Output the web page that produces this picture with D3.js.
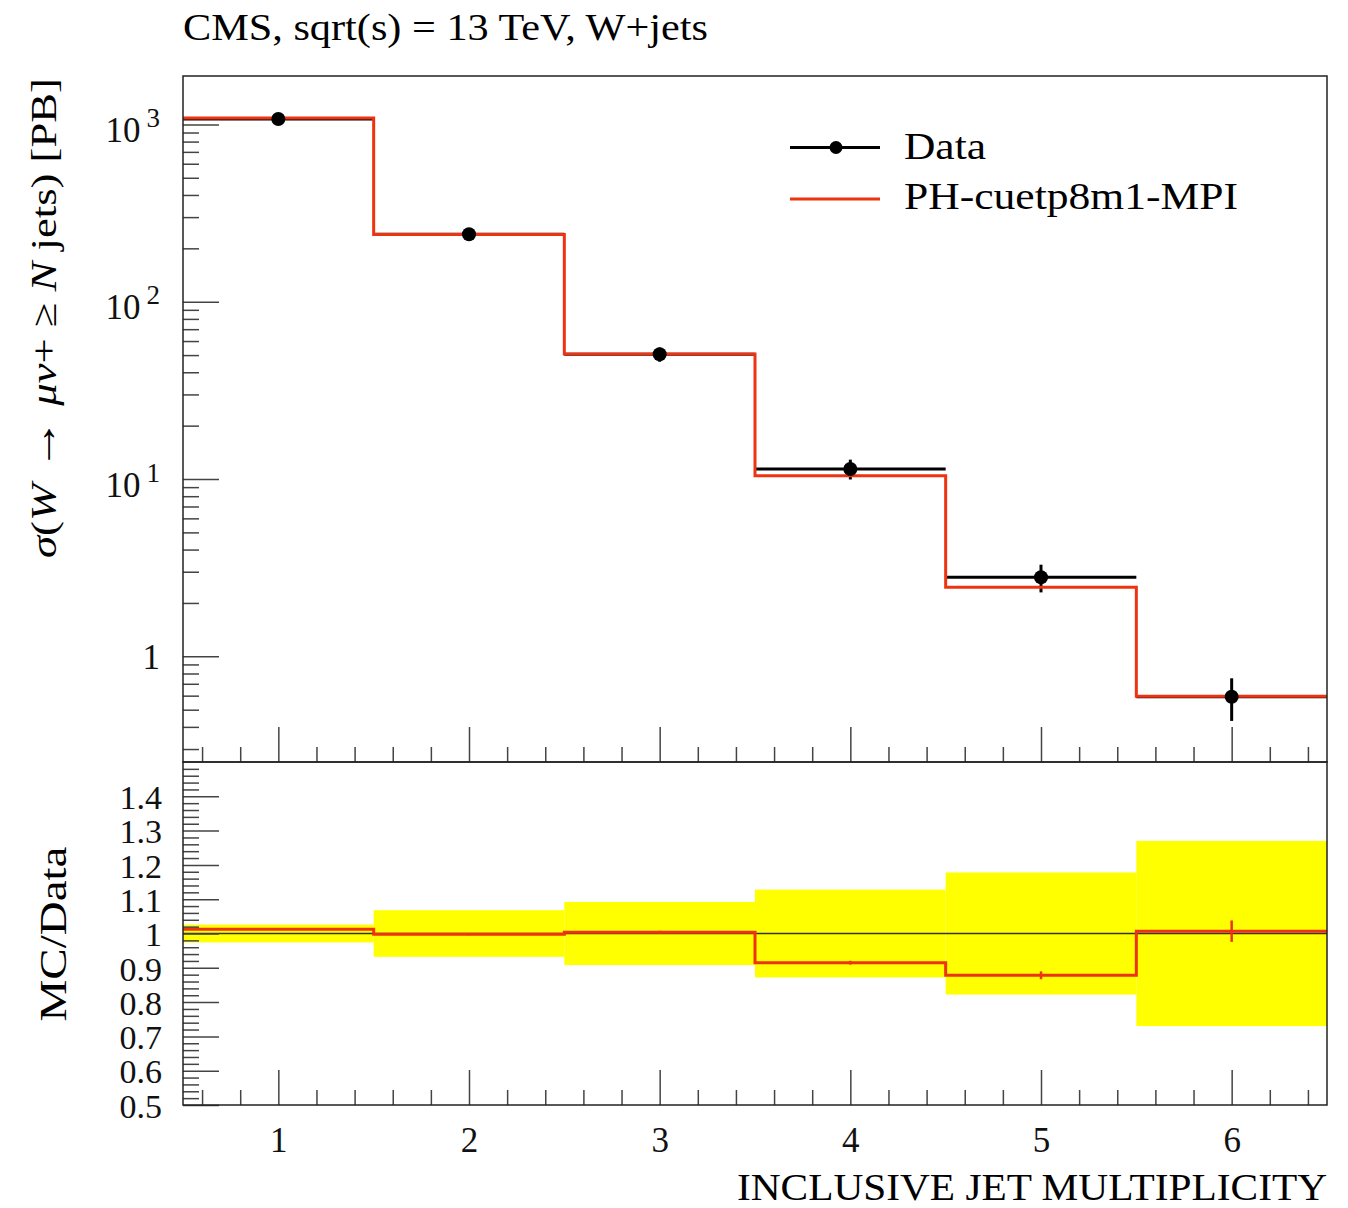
<!DOCTYPE html>
<html>
<head>
<meta charset="utf-8">
<script src="https://cdn.jsdelivr.net/npm/d3@7"></script>
<style>
  body { margin: 0; background: #fff; }
  svg { display: block; font-family: "Liberation Serif", "DejaVu Serif", serif; }
</style>
</head>
<body>
<svg id="chart" width="1348" height="1208"></svg>
<script>
// jet multiplicity bins
var nJets = [1, 2, 3, 4, 5, 6];
// measured cross section [pb] and relative uncertainty
var dataVals = [1072, 240, 50.5, 11.4, 2.79, 0.592];
var dataRelErr = [0.026, 0.068, 0.092, 0.128, 0.178, 0.27];
// MC prediction (PH-cuetp8m1-MPI) and relative stat. uncertainty
var mcVals = [1085, 239.5, 50.7, 10.43, 2.45, 0.596];
var mcRelErr = [0.002, 0.003, 0.004, 0.006, 0.013, 0.031];

var logMajor = [1, 10, 100, 1000];
var ratioMajor = [0.5, 0.6, 0.7, 0.8, 0.9, 1, 1.1, 1.2, 1.3, 1.4];

var RED = "#ee3311", AXC = "#444";

var svg = d3.select("#chart");
var L = 183, R = 1327, T = 76, MID = 762, B = 1105;

var x = d3.scaleLinear().domain([0.5, 6.5]).range([L, R]);
var y = d3.scaleLog().domain([0.2535, 1875]).range([MID, T]);
var yr = d3.scaleLinear().domain([0.5, 1.5]).range([B, MID]);

// minor ticks
var xMinor = d3.range(0.6, 6.45, 0.2).filter(function (v) { return Math.abs(v - Math.round(v)) > 0.01; });
var yMinor = [];
[0.1, 1, 10, 100].forEach(function (d) {
  for (var k = 2; k <= 9; k++) if (d * k > y.domain()[0] && d * k < y.domain()[1]) yMinor.push(d * k);
});
var rMinor = d3.range(0.52, 1.5, 0.02).filter(function (v) { return Math.abs(v * 10 - Math.round(v * 10)) > 0.01; });

function styleAxis(g) {
  g.attr("font-family", null).attr("font-size", null);
  g.select(".domain").remove();
  g.selectAll("line").attr("stroke", AXC).attr("stroke-width", 1.5);
  g.selectAll("text").attr("fill", "#111");
}

// ---------- upper panel ----------
var up = svg.append("g");

// x ticks at panel bottom (inward)
up.append("g").attr("transform", "translate(0," + MID + ")")
  .call(d3.axisBottom(x).tickValues(nJets).tickSize(-35).tickFormat(""))
  .call(styleAxis);
up.append("g").attr("transform", "translate(0," + MID + ")")
  .call(d3.axisBottom(x).tickValues(xMinor).tickSize(-15).tickFormat(""))
  .call(styleAxis);

// log y axis
up.append("g").attr("transform", "translate(" + L + ",0)")
  .call(d3.axisLeft(y).tickValues(yMinor).tickSize(-16).tickFormat(""))
  .call(styleAxis);
var yAx = up.append("g").attr("transform", "translate(" + L + ",0)")
  .call(d3.axisLeft(y).tickValues(logMajor).tickSize(-36).tickPadding(23).tickFormat(""))
  .call(styleAxis);
yAx.selectAll(".tick text").each(function (v) {
  var t = d3.select(this).attr("dy", null).attr("y", 0).attr("font-size", 35).attr("text-anchor", "end");
  var e = Math.round(Math.log10(v));
  if (e === 0) {
    t.attr("y", 12).text("1");
  } else {
    t.attr("y", 17);
    t.append("tspan").text("10");
    t.append("tspan").attr("dx", 6).attr("dy", -15).attr("font-size", 27).text(e);
  }
});

// data error bars (x width + y error)
var dataG = up.append("g");
nJets.forEach(function (n, i) {
  dataG.append("line")
    .attr("x1", x(n - 0.5)).attr("x2", x(n + 0.5))
    .attr("y1", y(dataVals[i])).attr("y2", y(dataVals[i]))
    .attr("stroke", "#000").attr("stroke-width", 3);
  dataG.append("line")
    .attr("x1", x(n)).attr("x2", x(n))
    .attr("y1", y(dataVals[i] * (1 + dataRelErr[i]))).attr("y2", y(dataVals[i] * (1 - dataRelErr[i])))
    .attr("stroke", "#000").attr("stroke-width", 3);
});

// MC step line
function stepPoints(vals) {
  var pts = [];
  nJets.forEach(function (n, i) {
    pts.push([n - 0.5, vals[i]]);
    pts.push([n + 0.5, vals[i]]);
  });
  return pts;
}
up.append("path")
  .datum(stepPoints(mcVals))
  .attr("d", d3.line().x(function (d) { return x(d[0]); }).y(function (d) { return y(d[1]); }))
  .attr("fill", "none").attr("stroke", RED).attr("stroke-width", 3).attr("stroke-linejoin", "miter");

up.selectAll("circle.pt").data(nJets).enter().append("circle")
  .attr("cx", function (n) { return x(n); })
  .attr("cy", function (n, i) { return y(dataVals[i]); })
  .attr("r", 7).attr("fill", "#000");

up.append("rect").attr("x", L).attr("y", T).attr("width", R - L).attr("height", MID - T)
  .attr("fill", "none").attr("stroke", "#222").attr("stroke-width", 1.5);

// legend
var leg = up.append("g");
leg.append("line").attr("x1", 790).attr("x2", 880).attr("y1", 147.5).attr("y2", 147.5)
  .attr("stroke", "#000").attr("stroke-width", 3);
leg.append("circle").attr("cx", 836).attr("cy", 147.5).attr("r", 6.5).attr("fill", "#000");
leg.append("line").attr("x1", 790).attr("x2", 880).attr("y1", 199).attr("y2", 199)
  .attr("stroke", RED).attr("stroke-width", 3);
leg.append("text").attr("x", 904).attr("y", 159).attr("font-size", 38)
  .attr("textLength", 82).attr("lengthAdjust", "spacingAndGlyphs").text("Data");
leg.append("text").attr("x", 904).attr("y", 209).attr("font-size", 38)
  .attr("textLength", 334).attr("lengthAdjust", "spacingAndGlyphs").text("PH-cuetp8m1-MPI");

// title
svg.append("text").attr("x", 183).attr("y", 40).attr("font-size", 38)
  .attr("textLength", 525).attr("lengthAdjust", "spacingAndGlyphs")
  .text("CMS, sqrt(s) = 13 TeV, W+jets");

// y label
var yl = svg.append("text")
  .attr("transform", "translate(56,318) rotate(-90)")
  .attr("text-anchor", "middle").attr("font-size", 36)
  .attr("textLength", 480).attr("lengthAdjust", "spacingAndGlyphs");
[["σ", true, 36], ["(", false, 36], ["W", true, 36], [" → ", false, 42], ["μν", true, 36], ["+ ≥ ", false, 36], ["N", true, 36], [" jets) [PB]", false, 36]]
  .forEach(function (p) {
    yl.append("tspan").attr("font-style", p[1] ? "italic" : "normal").attr("font-size", p[2]).text(p[0]);
  });

// ---------- ratio panel ----------
var lo = svg.append("g");

lo.selectAll("rect.band").data(nJets).enter().append("rect")
  .attr("x", function (n) { return x(n - 0.5); })
  .attr("width", function (n) { return x(n + 0.5) - x(n - 0.5); })
  .attr("y", function (n, i) { return yr(1 + dataRelErr[i]); })
  .attr("height", function (n, i) { return yr(1 - dataRelErr[i]) - yr(1 + dataRelErr[i]); })
  .attr("fill", "#ffff00");

lo.append("line").attr("x1", L).attr("x2", R).attr("y1", yr(1)).attr("y2", yr(1))
  .attr("stroke", "#333").attr("stroke-width", 1.3);

var ratio = mcVals.map(function (v, i) { return v / dataVals[i]; });
lo.append("path")
  .datum(stepPoints(ratio))
  .attr("d", d3.line().x(function (d) { return x(d[0]); }).y(function (d) { return yr(d[1]); }))
  .attr("fill", "none").attr("stroke", RED).attr("stroke-width", 3);
nJets.forEach(function (n, i) {
  lo.append("line").attr("x1", x(n)).attr("x2", x(n))
    .attr("y1", yr(ratio[i] * (1 + mcRelErr[i]))).attr("y2", yr(ratio[i] * (1 - mcRelErr[i])))
    .attr("stroke", RED).attr("stroke-width", 2.5);
});

lo.append("g").attr("transform", "translate(0," + B + ")")
  .call(d3.axisBottom(x).tickValues(nJets).tickSize(-35).tickPadding(22).tickFormat(d3.format("d")))
  .call(styleAxis)
  .selectAll("text").attr("font-size", 35).attr("dy", "0.71em");
lo.append("g").attr("transform", "translate(0," + B + ")")
  .call(d3.axisBottom(x).tickValues(xMinor).tickSize(-15).tickFormat(""))
  .call(styleAxis);

lo.append("g").attr("transform", "translate(" + L + ",0)")
  .call(d3.axisLeft(yr).tickValues(rMinor).tickSize(-16).tickFormat(""))
  .call(styleAxis);
lo.append("g").attr("transform", "translate(" + L + ",0)")
  .call(d3.axisLeft(yr).tickValues(ratioMajor).tickSize(-36).tickPadding(21)
    .tickFormat(function (v) { return v === 1 ? "1" : d3.format(".1f")(v); }))
  .call(styleAxis)
  .selectAll("text").attr("font-size", 34).attr("dy", "0.36em");

lo.append("rect").attr("x", L).attr("y", MID).attr("width", R - L).attr("height", B - MID)
  .attr("fill", "none").attr("stroke", "#222").attr("stroke-width", 1.5);

svg.append("text").attr("transform", "translate(66,934) rotate(-90)")
  .attr("text-anchor", "middle").attr("font-size", 38)
  .attr("textLength", 175).attr("lengthAdjust", "spacingAndGlyphs")
  .text("MC/Data");

svg.append("text").attr("x", 1327).attr("y", 1200).attr("text-anchor", "end")
  .attr("font-size", 38).attr("textLength", 590).attr("lengthAdjust", "spacingAndGlyphs")
  .text("INCLUSIVE JET MULTIPLICITY");
</script>
</body>
</html>
